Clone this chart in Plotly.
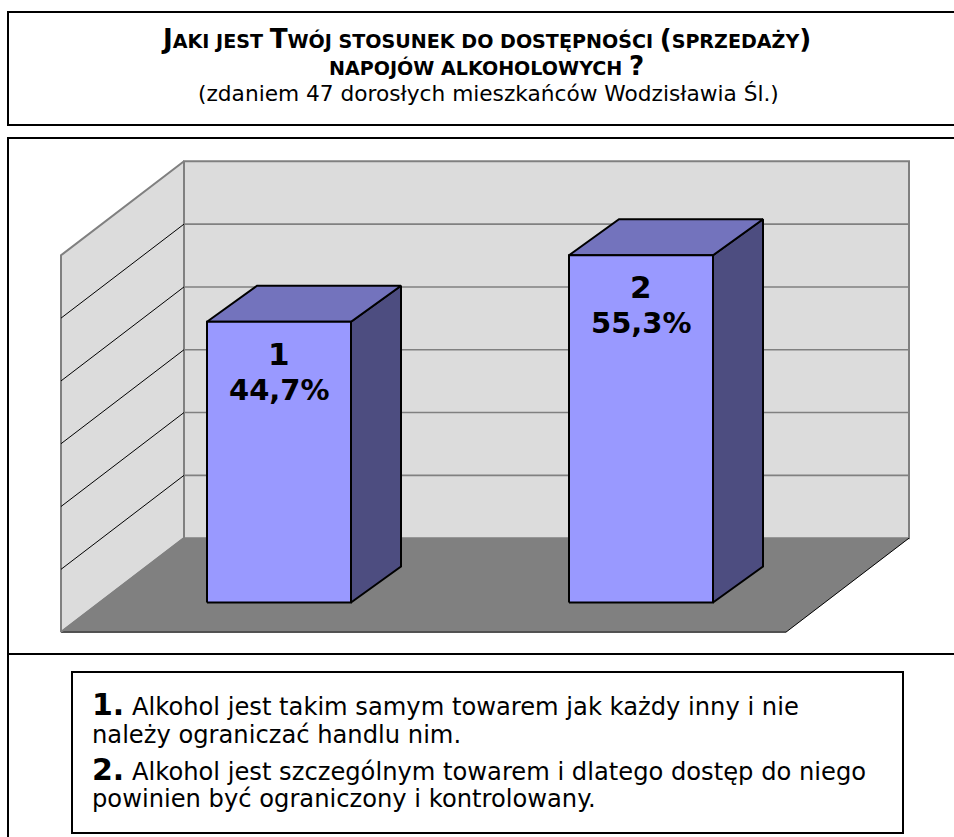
import plotly.graph_objects as go

# ---- data ----
categories = ["1", "2"]
percent_values = [44.7, 55.3]
percent_labels = ["44,7%", "55,3%"]
grid_values = [0, 10, 20, 30, 40, 50, 60]

title_line_1 = 'J<span style="font-size:19.1px">AKI JEST </span>T<span style="font-size:19.1px">WÓJ STOSUNEK DO DOSTĘPNOŚCI </span>(<span style="font-size:19.1px">SPRZEDAŻY</span>)'
title_line_2 = '<span style="font-size:19.1px">NAPOJÓW ALKOHOLOWYCH </span>?'
title_line_3 = "(zdaniem 47 dorosłych mieszkańców Wodzisławia Śl.)"
legend_lines = [
    '<b style="font-size:30px">1.</b> Alkohol jest takim samym towarem jak każdy inny i nie',
    "należy ograniczać handlu nim.",
    '<b style="font-size:30px">2.</b> Alkohol jest szczególnym towarem i dlatego dostęp do niego',
    "powinien być ograniczony i kontrolowany.",
]

# ---- page and 3D projection settings ----
W, H = 954, 837
PX_PER_CAT = 362.0
PX_PER_UNIT = 6.28
BAR_BASE_PX = 602.5
BAR_FIRST_PX = 279.0
xr = [1 - BAR_FIRST_PX / PX_PER_CAT, 1 + (W - BAR_FIRST_PX) / PX_PER_CAT]
yr = [(BAR_BASE_PX - H) / PX_PER_UNIT, BAR_BASE_PX / PX_PER_UNIT]

WALL_BASE = 10.25      # value-axis position of the back wall foot
WALL_DX = 123 / PX_PER_CAT
WALL_DY = 94 / PX_PER_UNIT
BACK_LEFT = 184 / PX_PER_CAT + xr[0]
BACK_RIGHT = 909 / PX_PER_CAT + xr[0]
BAR_HALF = 72 / PX_PER_CAT
BAR_DX = 50 / PX_PER_CAT
BAR_DY = 36 / PX_PER_UNIT

GRID_TOP = max(grid_values)
fig = go.Figure()


def poly(xs, ys, fill, line="rgba(0,0,0,0)", width=0):
    fig.add_trace(go.Scatter(x=xs + xs[:1], y=ys + ys[:1], mode="lines", fill="toself",
                             fillcolor=fill, line=dict(color=line, width=width),
                             hoverinfo="skip", showlegend=False))


def seg(xs, ys, color, width):
    fig.add_trace(go.Scatter(x=xs, y=ys, mode="lines", line=dict(color=color, width=width),
                             hoverinfo="skip", showlegend=False))


# back wall
poly([BACK_LEFT, BACK_RIGHT, BACK_RIGHT, BACK_LEFT],
     [WALL_BASE, WALL_BASE, WALL_BASE + GRID_TOP, WALL_BASE + GRID_TOP],
     "#DCDCDC", "#808080", 2)
# left wall
poly([BACK_LEFT - WALL_DX, BACK_LEFT, BACK_LEFT, BACK_LEFT - WALL_DX],
     [WALL_BASE - WALL_DY, WALL_BASE, WALL_BASE + GRID_TOP, WALL_BASE + GRID_TOP - WALL_DY],
     "#DCDCDC", "#808080", 2)
# gridlines
for g in grid_values[1:-1]:
    seg([BACK_LEFT, BACK_RIGHT], [WALL_BASE + g, WALL_BASE + g], "#808080", 1.6)
    seg([BACK_LEFT - WALL_DX, BACK_LEFT], [WALL_BASE + g - WALL_DY, WALL_BASE + g], "#000000", 1)
# floor
poly([BACK_LEFT, BACK_RIGHT, BACK_RIGHT - WALL_DX, BACK_LEFT - WALL_DX],
     [WALL_BASE, WALL_BASE, WALL_BASE - WALL_DY, WALL_BASE - WALL_DY], "#808080")
seg([BACK_LEFT - WALL_DX, BACK_RIGHT - WALL_DX, BACK_RIGHT],
    [WALL_BASE - WALL_DY, WALL_BASE - WALL_DY, WALL_BASE], "#000000", 1)
seg([BACK_LEFT - WALL_DX, BACK_LEFT], [WALL_BASE - WALL_DY, WALL_BASE], "#808080", 1.5)

# bars
for i, v in enumerate(percent_values):
    c = i + 1
    x0, x1 = c - BAR_HALF, c + BAR_HALF
    poly([x1, x1 + BAR_DX, x1 + BAR_DX, x1], [0, BAR_DY, v + BAR_DY, v], "#4D4D80", "#000000", 2)
    poly([x0, x1, x1 + BAR_DX, x0 + BAR_DX], [v, v, v + BAR_DY, v + BAR_DY], "#7373BD", "#000000", 2)
    poly([x0, x1, x1, x0], [0, 0, v, v], "#9999FF", "#000000", 2)

FONT = "DejaVu Sans, Verdana, sans-serif"
ann = []
for i, v in enumerate(percent_values):
    ann.append(dict(x=i + 1, y=v, yshift=-32, text=f"<b>{categories[i]}</b>", showarrow=False,
                    font=dict(size=31, family=FONT, color="#000")))
    ann.append(dict(x=i + 1, y=v, yshift=-68, text=f"<b>{percent_labels[i]}</b>", showarrow=False,
                    font=dict(size=29, family=FONT, color="#000")))


def text_at(px, py, text, size, anchor="center", bold=False):
    ann.append(dict(xref="paper", yref="paper", x=px / W, y=1 - py / H, text=f"<b>{text}</b>" if bold else text,
                    showarrow=False, xanchor=anchor, yanchor="middle",
                    font=dict(size=size, family=FONT, color="#000")))


text_at(486, 39, title_line_1, 26.2, bold=True)
text_at(486, 66, title_line_2, 26.2, bold=True)
text_at(488, 94, title_line_3, 21.7)
for t, py in zip(legend_lines, [704, 735, 769, 799]):
    text_at(90, py, t, 24.2, anchor="left")


def rect(x0, y0, x1, y1, width=2, color="#000"):
    return dict(type="rect", xref="paper", yref="paper", x0=x0 / W, x1=x1 / W, y0=1 - y0 / H, y1=1 - y1 / H,
                line=dict(color=color, width=width), fillcolor="rgba(0,0,0,0)", layer="above")


shapes = [
    rect(8, 12, W + 10, 125),
    rect(8, 138, W + 10, 654),
    rect(8, 654, W + 10, H + 10),
    rect(72, 672, 903, 833),
]

fig.update_layout(
    width=W, height=H, margin=dict(l=0, r=0, t=0, b=0), paper_bgcolor="#FFFFFF", plot_bgcolor="#FFFFFF",
    xaxis=dict(range=xr, visible=False, fixedrange=True),
    yaxis=dict(range=yr, visible=False, fixedrange=True),
    showlegend=False, annotations=ann, shapes=shapes,
)
fig.write_html("out.html", post_script="document.body.style.margin='0';document.body.style.overflow='hidden';",
               config=dict(displayModeBar=False))
